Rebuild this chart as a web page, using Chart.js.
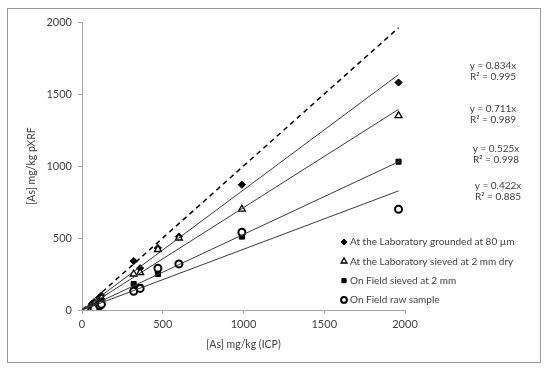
<!DOCTYPE html>
<html>
<head>
<meta charset="utf-8">
<script src="https://cdn.jsdelivr.net/npm/chart.js@4"></script>
<style>
    html, body { margin: 0; padding: 0; background: #fff; }
    #wrap { position: relative; width: 550px; height: 375px; }
    #frame {
        position: absolute; left: 7px; top: 8px; width: 532px; height: 353px;
        border: 1px solid #9a9a9a; pointer-events: none;
    }
</style>
</head>
<body>
<div id="wrap">
    <canvas id="chart" width="550" height="375"></canvas>
    <div id="frame"></div>
</div>
<script>
// ICP reference values (x) shared by every preparation method
const icpValues = [60, 75, 110, 120, 320, 360, 470, 600, 990, 1960];

// pXRF readings (y) per preparation method
const labGrounded = [40, 55, 80, 100, 340, 290, 430, 510, 870, 1580];
const labSieved = [30, 45, 70, 85, 250, 260, 420, 500, 700, 1350];
const fieldSieved = [20, 30, 50, 65, 180, 160, 250, 320, 510, 1030];
const fieldRaw = [0, 10, 30, 40, 130, 150, 290, 320, 540, 700];

const seriesNames = [
    'At the Laboratory grounded at 80 µm',
    'At the Laboratory sieved at 2 mm dry',
    'On Field sieved at 2 mm',
    'On Field raw sample',
];

// fitted slopes and R² shown on the right
const slopes = [0.834, 0.711, 0.525, 0.422];
const rSquared = ['0.995', '0.989', '0.998', '0.885'];

const xTicks = [0, 500, 1000, 1500, 2000];
const yTicks = [0, 500, 1000, 1500, 2000];

const fontFamily = 'Lato, "Open Sans", sans-serif';
const textColor = '#404040';
const axisColor = '#a6a6a6';

const markers = [
    { pointStyle: 'rectRot', radius: 3.6, backgroundColor: '#000', borderColor: '#000', borderWidth: 1 },
    { pointStyle: 'triangle', radius: 4, backgroundColor: '#fff', borderColor: '#000', borderWidth: 1.3 },
    { pointStyle: 'rect', radius: 3.6, backgroundColor: '#000', borderColor: '#000', borderWidth: 1 },
    { pointStyle: 'circle', radius: 3.5, backgroundColor: '#fff', borderColor: '#000', borderWidth: 2 },
];

const seriesValues = [labGrounded, labSieved, fieldSieved, fieldRaw];
const xMax = Math.max(...icpValues);

const datasets = [];

// trend lines first so markers sit on top
slopes.forEach((k) => {
    datasets.push({
        type: 'line',
        data: [{ x: 0, y: 0 }, { x: xMax, y: k * xMax }],
        borderColor: '#3a3a3a',
        borderWidth: 1,
        pointRadius: 0,
        fill: false,
    });
});

datasets.push({
    type: 'line',
    data: [{ x: 0, y: 0 }, { x: xMax, y: xMax }],
    borderColor: '#000',
    borderWidth: 1.5,
    borderDash: [5, 4],
    pointRadius: 0,
    fill: false,
});

seriesValues.slice().reverse().forEach((vals, ri) => {
    const i = seriesValues.length - 1 - ri;
    const m = markers[i];
    datasets.push({
        type: 'scatter',
        label: seriesNames[i],
        data: icpValues.map((x, j) => ({ x, y: vals[j] })),
        pointStyle: m.pointStyle,
        pointRadius: m.radius,
        pointBackgroundColor: m.backgroundColor,
        pointBorderColor: m.borderColor,
        pointBorderWidth: m.borderWidth,
        showLine: false,
    });
});

const sidePlugin = {
    id: 'sideText',
    afterDraw(chart) {
        const ctx = chart.ctx;
        ctx.save();
        ctx.fillStyle = textColor;
        ctx.font = '10px ' + fontFamily;
        ctx.textBaseline = 'middle';

        // equations
        const eqY = [66, 109, 149, 186];
        const eqX = [493, 493, 496, 498];
        ctx.textAlign = 'center';
        slopes.forEach((k, i) => {
            ctx.fillText('y = ' + k.toFixed(3) + 'x', eqX[i], eqY[i]);
            ctx.fillText('R² = ' + rSquared[i], eqX[i], eqY[i] + 11);
        });

        // legend
        ctx.textAlign = 'left';
        seriesNames.forEach((name, i) => {
            const y = 242 + i * 19.3;
            const m = markers[i];
            ctx.fillStyle = m.backgroundColor;
            ctx.strokeStyle = m.borderColor;
            ctx.lineWidth = m.borderWidth;
            Chart.helpers.drawPoint(ctx, { pointStyle: m.pointStyle, radius: m.radius - 0.6, rotation: 0, borderWidth: m.borderWidth }, 344, y);
            ctx.fillStyle = textColor;
            ctx.fillText(name, 350, y);
        });
        ctx.restore();
    },
};

new Chart(document.getElementById('chart'), {
    type: 'scatter',
    data: { datasets },
    plugins: [sidePlugin],
    options: {
        responsive: false,
        animation: false,
        layout: { padding: { top: 22, right: 145, bottom: 0, left: 0 } },
        plugins: {
            legend: { display: false },
            tooltip: { enabled: false },
        },
        scales: {
            x: {
                type: 'linear',
                min: 0,
                max: 2000,
                afterBuildTicks: (s) => { s.ticks = xTicks.map((v) => ({ value: v })); },
                afterFit: (s) => { s.height = 65; },
                ticks: { color: textColor, font: { family: fontFamily, size: 11 }, padding: 4, callback: (v) => String(v) },
                grid: { drawOnChartArea: false, color: axisColor, tickLength: 4 },
                border: { color: axisColor },
                title: {
                    display: true,
                    text: '[As] mg/kg (ICP)',
                    color: textColor,
                    font: { family: fontFamily, size: 10.5 },
                    padding: { top: 0, bottom: 24 },
                },
            },
            y: {
                type: 'linear',
                min: 0,
                max: 2000,
                afterBuildTicks: (s) => { s.ticks = yTicks.map((v) => ({ value: v })); },
                afterFit: (s) => { s.width = 82; },
                ticks: { color: textColor, font: { family: fontFamily, size: 11 }, padding: 6, callback: (v) => String(v) },
                grid: { drawOnChartArea: false, color: axisColor, tickLength: 4 },
                border: { color: axisColor },
                title: {
                    display: true,
                    text: '[As] mg/kg pXRF',
                    color: textColor,
                    font: { family: fontFamily, size: 10.5 },
                    padding: { top: 25, bottom: 0 },
                },
            },
        },
    },
});
</script>
</body>
</html>
